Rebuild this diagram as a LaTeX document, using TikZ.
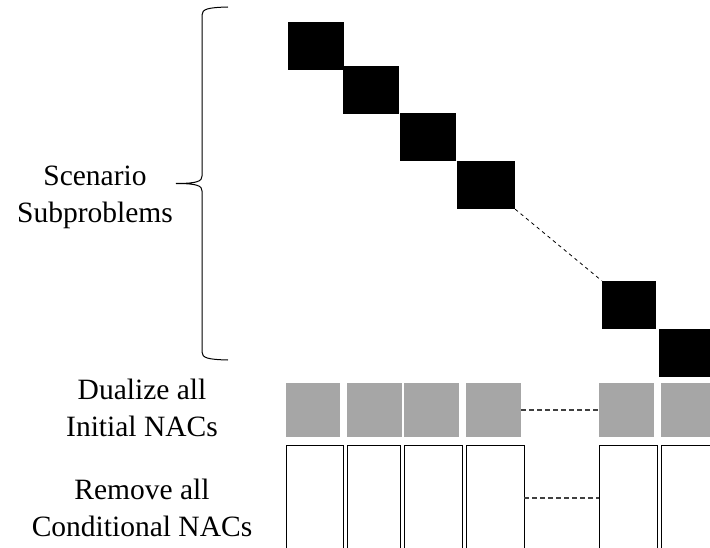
\documentclass[tikz,border=0pt]{standalone}
\usepackage{fontspec}
\setmainfont{Liberation Serif}
\definecolor{blockgray}{HTML}{A6A6A6}
\definecolor{dashgray}{HTML}{404040}
\begin{document}
\begin{tikzpicture}[x=1pt,y=-1pt,
  blk/.style={rectangle, fill=black, inner sep=0pt, minimum width=56pt, minimum height=48pt},
  gblk/.style={rectangle, fill=blockgray, inner sep=0pt, minimum width=55pt, minimum height=54pt},
  wblk/.style={rectangle, draw=black, line width=0.9pt, fill=white, inner sep=0pt, minimum width=57pt, minimum height=106pt},
  lbl/.style={align=center, inner sep=0pt, font=\fontsize{29.5}{37}\selectfont},
  conn/.style={line width=0.8pt, dash pattern=on 3.5pt off 3.5pt},
  conng/.style={draw=dashgray, line width=1.1pt, dash pattern=on 5pt off 3pt}]
\useasboundingbox (0,0) rectangle (710,548);
\clip (0,0) rectangle (710,548);
% scenario blocks
\node[blk] (s1) at (316,46) {};
\node[blk] (s2) at (371,90) {};
\node[blk] (s3) at (428,137) {};
\node[blk, minimum width=58pt] (s4) at (486,185) {};
\node[blk, minimum width=54pt] (s5) at (629,305) {};
\node[blk] (s6) at (687,353) {};
\draw[conn] (s4.south east) -- (s5.north west);
% initial NACs
\node[gblk, minimum width=54pt] (g1) at (313,410) {};
\node[gblk] (g2) at (374.5,410) {};
\node[gblk] (g3) at (431.5,410) {};
\node[gblk] (g4) at (493.5,410) {};
\node[gblk] (g5) at (626.5,410) {};
\node[gblk] (g6) at (688.5,410) {};
\draw[conng] (g4.east) -- (g5.west);
% conditional NACs
\node[wblk] (w1) at (314.5,498) {};
\node[wblk, minimum width=53pt] (w2) at (373.5,498) {};
\node[wblk, minimum width=58pt] (w3) at (433,498) {};
\node[wblk, minimum width=58pt] (w4) at (495,498) {};
\node[wblk, minimum width=58pt] (w5) at (628,498) {};
\node[wblk, minimum width=58pt] (w6) at (690,498) {};
\draw[conng] (w4.east) -- (w5.west);
% brace
\draw[line width=1pt] (228,7) .. controls (208,7.5) and (202,9) .. (202,15)
  -- (202,176) .. controls (202,181) and (198,183.5) .. (176,183.5)
  (176,183.5) .. controls (198,183.5) and (202,186) .. (202,191)
  -- (202,352) .. controls (202,358) and (208,359.5) .. (228,360);
% labels
\node[lbl, anchor=base] (lscen) at (95,222.7) {Scenario\\Subproblems};
\node[lbl, anchor=base] (ldual) at (142,436.7) {Dualize all\\Initial NACs};
\node[lbl, anchor=base] (lrem) at (142,536) {Remove all\\Conditional NACs};
\end{tikzpicture}
\end{document}
